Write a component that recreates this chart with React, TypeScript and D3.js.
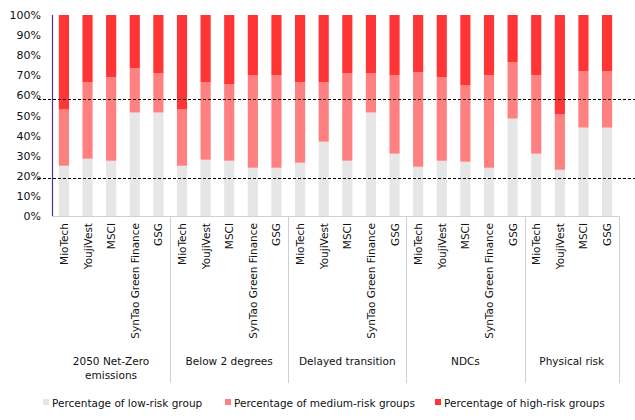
import React, { useRef, useEffect } from 'react';
import * as d3 from 'd3';

const scenarios = ['2050 Net-Zero|emissions', 'Below 2 degrees', 'Delayed transition', 'NDCs', 'Physical risk'];
const providers = [
  ['MioTech', 'YoujiVest', 'MSCI', 'SynTao Green Finance', 'GSG'],
  ['MioTech', 'YoujiVest', 'MSCI', 'SynTao Green Finance', 'GSG'],
  ['MioTech', 'YoujiVest', 'MSCI', 'SynTao Green Finance', 'GSG'],
  ['MioTech', 'YoujiVest', 'MSCI', 'SynTao Green Finance', 'GSG'],
  ['MioTech', 'YoujiVest', 'MSCI', 'GSG'],
];
// per scenario, per provider (percent)
const lowRisk = [
  [25, 28.5, 27.5, 51.5, 51.5],
  [25, 28, 27.5, 24, 24],
  [26.5, 37, 27.5, 51.5, 31],
  [24.5, 27.5, 27, 24, 48.5],
  [31, 23, 44, 44],
];
const mediumRisk = [
  [28, 38, 41.5, 22, 19.5],
  [28, 38.5, 38, 46, 46],
  [40, 29.5, 43.5, 19.5, 39],
  [47, 41.5, 38, 46, 28],
  [39, 27.5, 28, 28],
];
const highRisk = [
  [47, 33.5, 31, 26.5, 29],
  [47, 33.5, 34.5, 30, 30],
  [33.5, 33.5, 29, 29, 30],
  [28.5, 31, 35, 30, 23.5],
  [30, 49.5, 28, 28],
];
const yTicks = [0, 10, 20, 30, 40, 50, 60, 70, 80, 90, 100];
const refLines = [58, 19];
const seriesNames = ['Percentage of low-risk group', 'Percentage of medium-risk groups', 'Percentage of high-risk groups'];
const colors = ['#e6e6e6', '#ff8080', '#ff3434'];

const W = 635, H = 420;
const FONT = '"DejaVu Sans", sans-serif';

export default function App() {
  const ref = useRef<SVGSVGElement>(null);

  useEffect(() => {
    const svg = d3.select(ref.current);
    svg.selectAll('*').remove();

    const left = 52, right = 619, top = 15, bottom = 216;

    // flatten categories
    const rows: { key: string; name: string; g: number; vals: number[] }[] = [];
    providers.forEach((ps, g) => ps.forEach((p, i) => {
      rows.push({ key: `${g}-${i}`, name: p, g, vals: [lowRisk[g][i], mediumRisk[g][i], highRisk[g][i]] });
    }));

    const x = d3.scaleBand().domain(rows.map(r => r.key)).range([left, right]).paddingInner(0.57).paddingOuter(0.29);
    const y = d3.scaleLinear().domain([0, 100]).range([bottom, top]);

    // bars
    rows.forEach(r => {
      let acc = 0;
      r.vals.forEach((v, si) => {
        svg.append('rect')
          .attr('x', x(r.key)!)
          .attr('width', x.bandwidth())
          .attr('y', y(acc + v))
          .attr('height', y(acc) - y(acc + v))
          .attr('fill', colors[si]);
        acc += v;
      });
    });

    // reference lines
    refLines.forEach(v => {
      svg.append('line')
        .attr('x1', 38).attr('x2', W)
        .attr('y1', Math.round(y(v)) + 0.5).attr('y2', Math.round(y(v)) + 0.5)
        .attr('stroke', '#000').attr('stroke-width', 1).attr('stroke-dasharray', '3,2');
    });

    // y axis
    svg.append('line')
      .attr('x1', left + 0.5).attr('x2', left + 0.5).attr('y1', top).attr('y2', bottom)
      .attr('stroke', '#4b2ea0').attr('stroke-width', 1.2);
    yTicks.forEach(t => {
      svg.append('text')
        .attr('x', 41).attr('y', y(t) + 4)
        .attr('text-anchor', 'end')
        .style('font-family', FONT).style('font-size', '11px').style('fill', '#111')
        .text(`${t}%`);
    });

    // x axis & group separators
    svg.append('line')
      .attr('x1', left).attr('x2', right + 0.5).attr('y1', bottom + 0.5).attr('y2', bottom + 0.5)
      .attr('stroke', '#d0d0d0');
    const slot = (right - left) / rows.length;
    let start = 0;
    providers.forEach((ps, g) => {
      const x0 = left + start * slot;
      const x1 = left + (start + ps.length) * slot;
      const bx = Math.round(x1) + 0.5;
      svg.append('line')
        .attr('x1', bx).attr('x2', bx).attr('y1', bottom).attr('y2', 383)
        .attr('stroke', '#d0d0d0');
      const lines = scenarios[g].split('|');
      lines.forEach((ln, li) => {
        svg.append('text')
          .attr('x', (x0 + x1) / 2).attr('y', 365 + li * 14)
          .attr('text-anchor', 'middle')
          .style('font-family', FONT).style('font-size', '10.5px').style('fill', '#111')
          .text(ln);
      });
      start += ps.length;
    });

    // category labels
    rows.forEach(r => {
      const cx = x(r.key)! + x.bandwidth() / 2 + 4;
      svg.append('text')
        .attr('transform', `translate(${cx},223) rotate(-90)`)
        .attr('text-anchor', 'end')
        .style('font-family', FONT).style('font-size', '10.5px').style('fill', '#111')
        .text(r.name);
    });

    // legend
    const legX = [43, 225, 435];
    seriesNames.forEach((n, i) => {
      svg.append('rect').attr('x', legX[i]).attr('y', 399).attr('width', 6).attr('height', 6).attr('fill', colors[i]);
      svg.append('text')
        .attr('x', legX[i] + 9).attr('y', 407)
        .style('font-family', FONT).style('font-size', '10.5px').style('fill', '#111')
        .text(n);
    });
  }, []);

  return <svg ref={ref} width={W} height={H} style={{ position: 'absolute', left: 0, top: 0, background: '#fff' }} />;
}
